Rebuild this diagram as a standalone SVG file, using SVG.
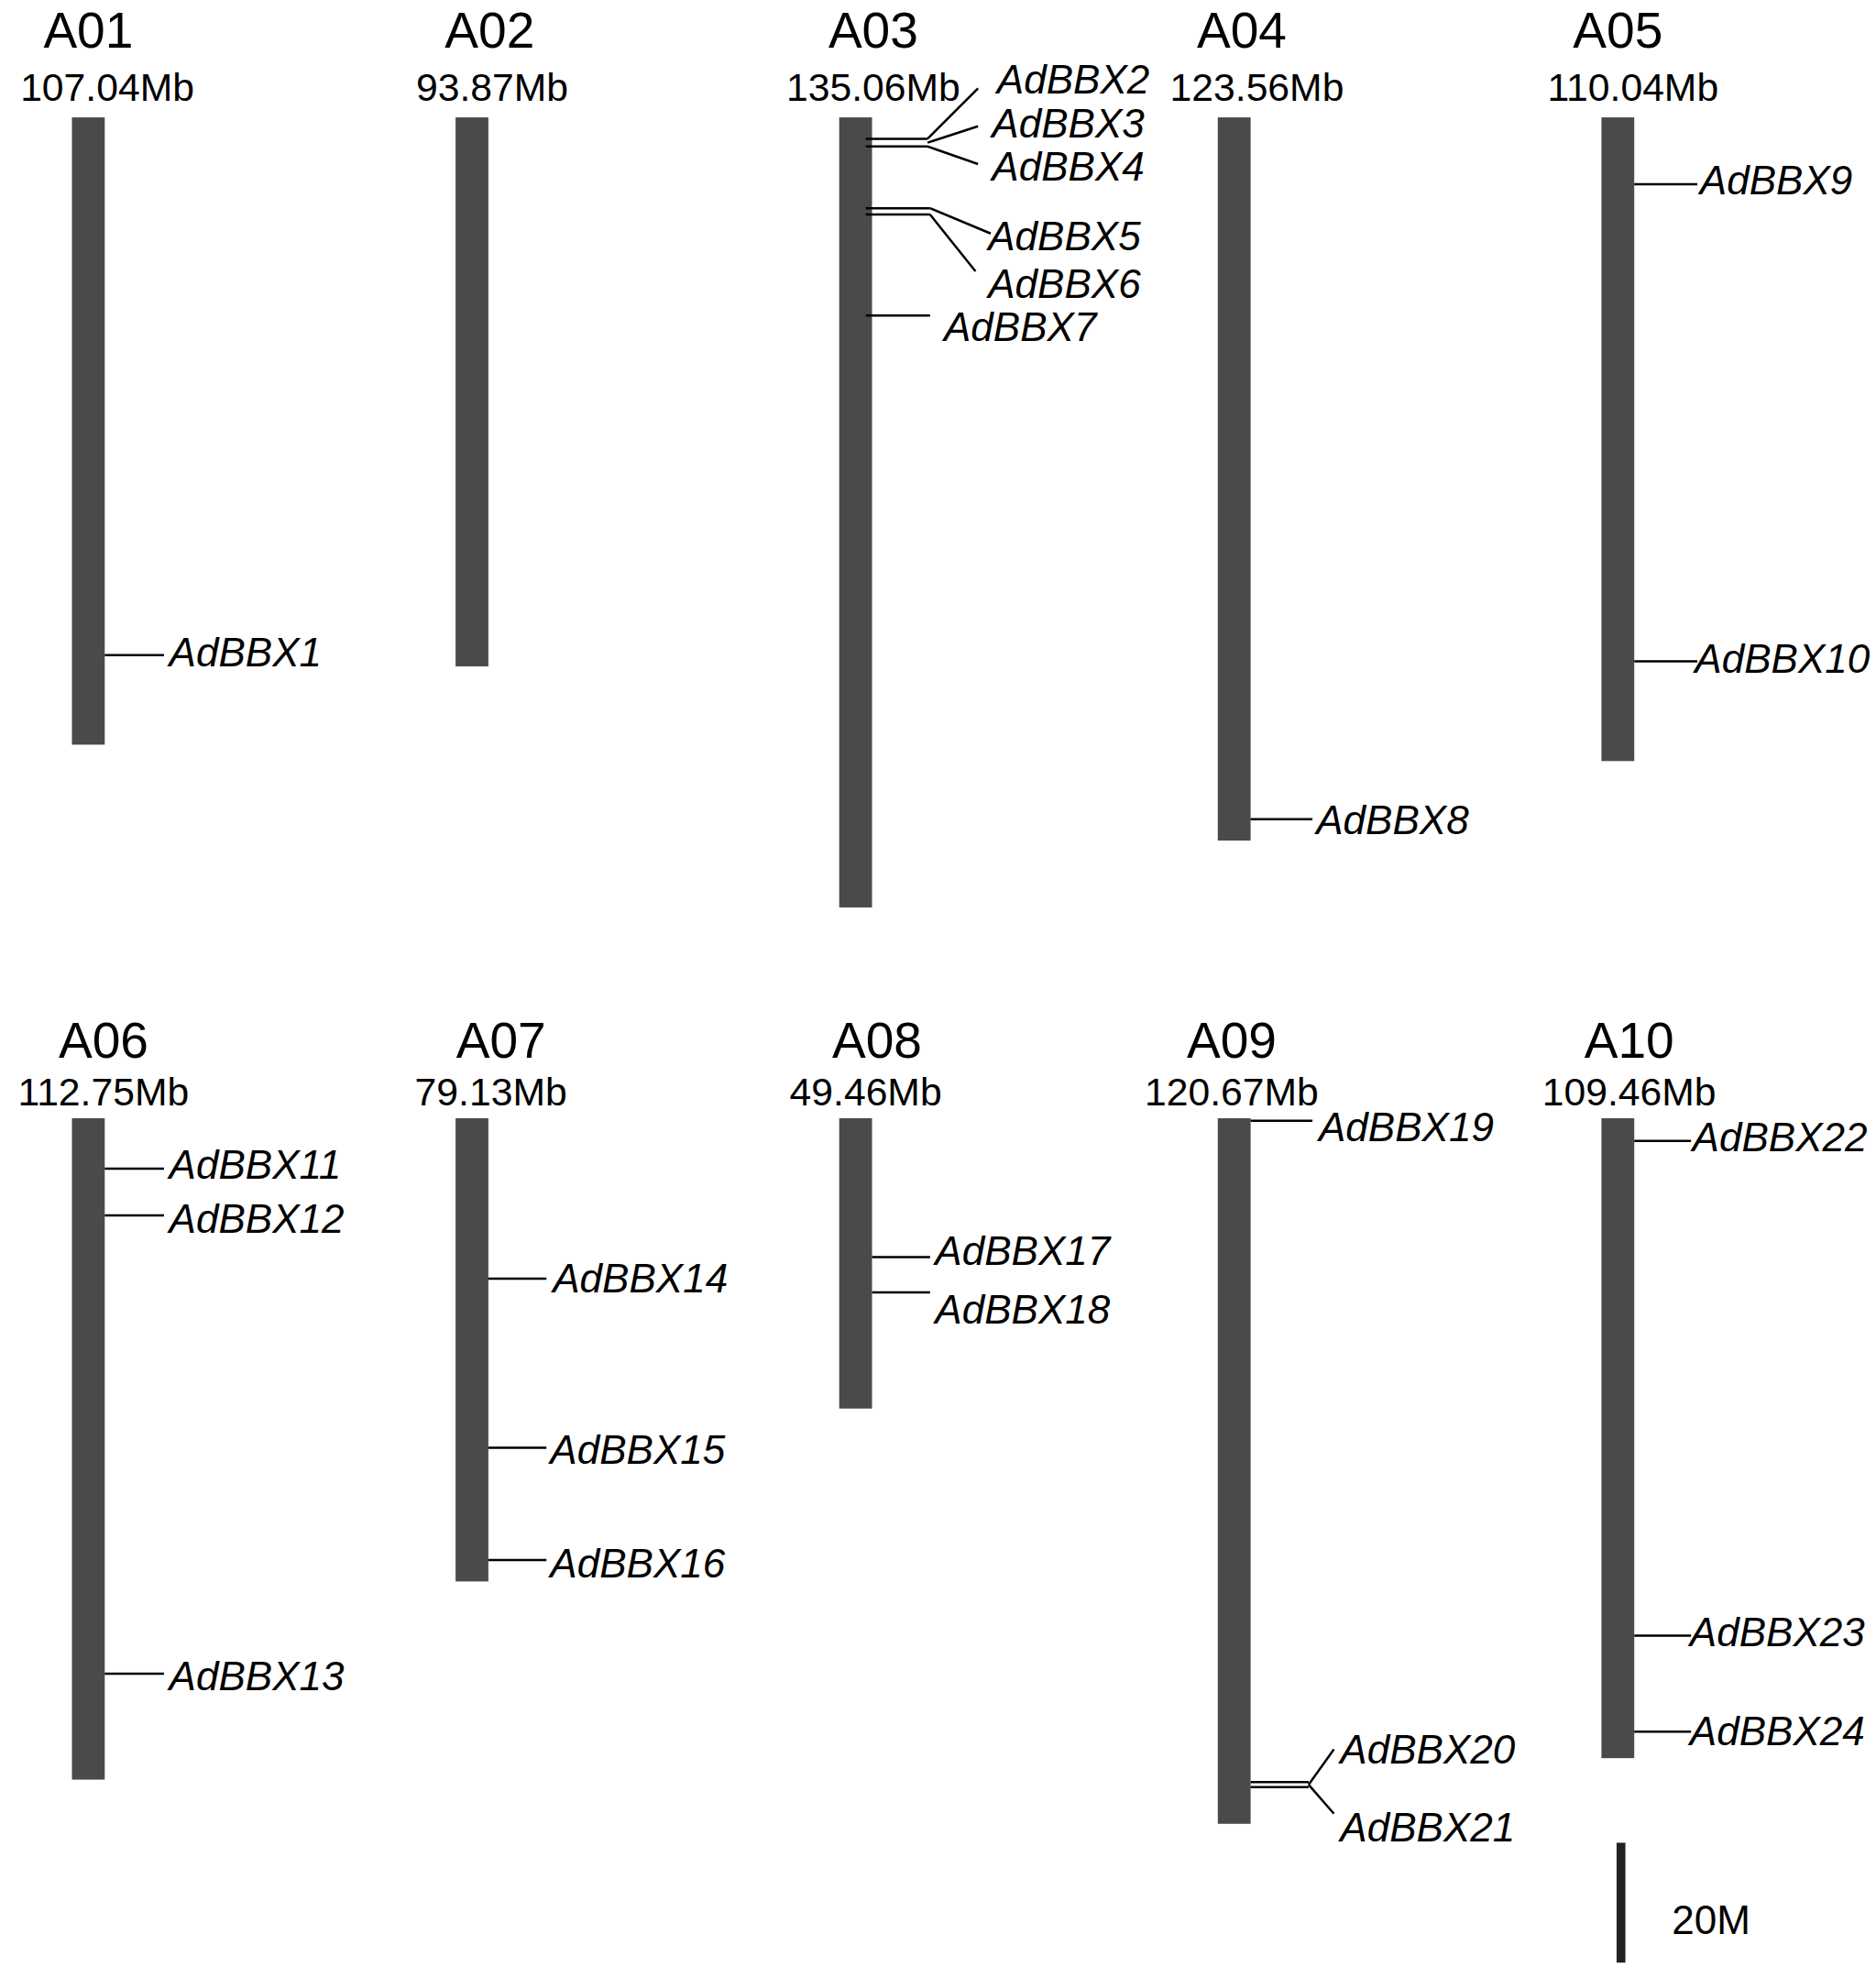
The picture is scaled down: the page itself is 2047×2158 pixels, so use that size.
<svg xmlns="http://www.w3.org/2000/svg" width="2047" height="2158" viewBox="0 0 2047 2158">
<style>
.bar{fill:#4a4a4a}
.t{font-family:"Liberation Sans",Arial,sans-serif;font-size:40px;text-anchor:middle;fill:#000}
.m{font-family:"Liberation Sans",Arial,sans-serif;font-size:31px;text-anchor:middle;fill:#000}
.g{font-family:"Liberation Sans",Arial,sans-serif;font-size:32px;font-style:italic;fill:#000}
.c line,.c polyline{stroke:#000;stroke-width:1.8;fill:none}
</style>
<rect width="2047" height="2158" fill="#fff"/>
<g transform="scale(1.377)">
<g id="A01"><text class="t" x="70" y="38">A01</text><text class="m" x="85" y="80">107.04Mb</text><rect class="bar" x="57" y="93" width="26" height="497"/></g>
<g id="A02"><text class="t" x="388" y="38">A02</text><text class="m" x="390" y="80">93.87Mb</text><rect class="bar" x="361" y="93" width="26" height="435"/></g>
<g id="A03"><text class="t" x="692" y="38">A03</text><text class="m" x="692" y="80">135.06Mb</text><rect class="bar" x="665" y="93" width="26" height="626"/></g>
<g id="A04"><text class="t" x="984" y="38">A04</text><text class="m" x="996" y="80">123.56Mb</text><rect class="bar" x="965" y="93" width="26" height="573"/></g>
<g id="A05"><text class="t" x="1282" y="38">A05</text><text class="m" x="1294" y="80">110.04Mb</text><rect class="bar" x="1269" y="93" width="26" height="510"/></g>
<g id="A06"><text class="t" x="82" y="838">A06</text><text class="m" x="82" y="876">112.75Mb</text><rect class="bar" x="57" y="886" width="26" height="524"/></g>
<g id="A07"><text class="t" x="397" y="838">A07</text><text class="m" x="389" y="876">79.13Mb</text><rect class="bar" x="361" y="886" width="26" height="367"/></g>
<g id="A08"><text class="t" x="695" y="838">A08</text><text class="m" x="686" y="876">49.46Mb</text><rect class="bar" x="665" y="886" width="26" height="230"/></g>
<g id="A09"><text class="t" x="976" y="838">A09</text><text class="m" x="976" y="876">120.67Mb</text><rect class="bar" x="965" y="886" width="26" height="559"/></g>
<g id="A10"><text class="t" x="1291" y="838">A10</text><text class="m" x="1291" y="876">109.46Mb</text><rect class="bar" x="1269" y="886" width="26" height="507"/></g>
<g id="scale"><rect x="1281" y="1460" width="7" height="95" fill="#222"/><text class="m" x="1356" y="1532" style="font-size:32px">20M</text></g>
<g id="connectors" class="c">
<line x1="83" y1="519" x2="130" y2="519"/>
<line x1="686" y1="110" x2="735" y2="110"/><line x1="686" y1="116" x2="735" y2="116"/>
<polyline points="735,110 775,70"/><polyline points="735,113 775,100"/><polyline points="735,116 775,130"/>
<line x1="686" y1="165" x2="737" y2="165"/><line x1="686" y1="170" x2="737" y2="170"/>
<polyline points="737,165 785,185"/><polyline points="737,170 773,215"/>
<line x1="686" y1="250" x2="737" y2="250"/>
<line x1="991" y1="649" x2="1040" y2="649"/>
<line x1="1295" y1="146" x2="1345" y2="146"/>
<line x1="1295" y1="524" x2="1345" y2="524"/>
<line x1="83" y1="926" x2="130" y2="926"/><line x1="83" y1="963" x2="130" y2="963"/><line x1="83" y1="1326" x2="130" y2="1326"/>
<line x1="387" y1="1013" x2="433" y2="1013"/><line x1="387" y1="1147" x2="433" y2="1147"/><line x1="387" y1="1236" x2="433" y2="1236"/>
<line x1="691" y1="996" x2="737" y2="996"/><line x1="691" y1="1024" x2="737" y2="1024"/>
<line x1="991" y1="888" x2="1040" y2="888"/>
<line x1="991" y1="1412" x2="1037" y2="1412"/><line x1="991" y1="1416" x2="1037" y2="1416"/>
<polyline points="1037,1414 1057,1386"/><polyline points="1037,1414 1057,1437"/>
<line x1="1295" y1="904" x2="1340" y2="904"/><line x1="1295" y1="1296" x2="1340" y2="1296"/><line x1="1295" y1="1372" x2="1340" y2="1372"/>
</g>
<g id="genes">
<text class="g" x="134" y="528">AdBBX1</text>
<text class="g" x="790" y="74">AdBBX2</text>
<text class="g" x="786" y="109">AdBBX3</text>
<text class="g" x="786" y="143">AdBBX4</text>
<text class="g" x="783" y="198">AdBBX5</text>
<text class="g" x="783" y="236">AdBBX6</text>
<text class="g" x="748" y="270">AdBBX7</text>
<text class="g" x="1043" y="661">AdBBX8</text>
<text class="g" x="1347" y="154">AdBBX9</text>
<text class="g" x="1343" y="533">AdBBX10</text>
<text class="g" x="134" y="934">AdBBX11</text>
<text class="g" x="134" y="977">AdBBX12</text>
<text class="g" x="134" y="1339">AdBBX13</text>
<text class="g" x="438" y="1024">AdBBX14</text>
<text class="g" x="436" y="1160">AdBBX15</text>
<text class="g" x="436" y="1250">AdBBX16</text>
<text class="g" x="741" y="1002">AdBBX17</text>
<text class="g" x="741" y="1049">AdBBX18</text>
<text class="g" x="1045" y="904">AdBBX19</text>
<text class="g" x="1062" y="1397">AdBBX20</text>
<text class="g" x="1062" y="1459">AdBBX21</text>
<text class="g" x="1341" y="912">AdBBX22</text>
<text class="g" x="1339" y="1304">AdBBX23</text>
<text class="g" x="1339" y="1383">AdBBX24</text>
</g>
</g>
</svg>
